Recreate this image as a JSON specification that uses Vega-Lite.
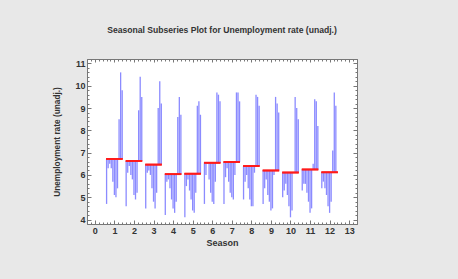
{
"$schema": "https://vega.github.io/schema/vega-lite/v6.json",
"width": 270, "height": 165,
"autosize": {"type": "none"},
"padding": {"left": 87, "top": 59, "right": 101, "bottom": 55},
"background": "#e8e8e8",
"view": {"fill": "white", "stroke": null},
"title": {"text": "Seasonal Subseries Plot for Unemployment rate (unadj.)", "fontSize": 8.6, "font": "Liberation Sans", "fontWeight": "bold", "color": "#333333", "offset": 20, "anchor": "middle"},
"data": {"values": [
{"season":1,"year":2001,"rate":4.7},{"season":2,"year":2001,"rate":4.6},{"season":3,"year":2001,"rate":4.5},{"season":4,"year":2001,"rate":4.2},{"season":5,"year":2001,"rate":4.1},{"season":6,"year":2001,"rate":4.7},{"season":7,"year":2001,"rate":4.7},{"season":8,"year":2001,"rate":4.9},{"season":9,"year":2001,"rate":4.7},{"season":10,"year":2001,"rate":5.0},{"season":11,"year":2001,"rate":5.3},{"season":12,"year":2001,"rate":5.4},
{"season":1,"year":2002,"rate":6.3},{"season":2,"year":2002,"rate":6.1},{"season":3,"year":2002,"rate":6.1},{"season":4,"year":2002,"rate":5.7},{"season":5,"year":2002,"rate":5.5},{"season":6,"year":2002,"rate":6.0},{"season":7,"year":2002,"rate":5.9},{"season":8,"year":2002,"rate":5.7},{"season":9,"year":2002,"rate":5.4},{"season":10,"year":2002,"rate":5.3},{"season":11,"year":2002,"rate":5.6},{"season":12,"year":2002,"rate":5.7},
{"season":1,"year":2003,"rate":6.5},{"season":2,"year":2003,"rate":6.4},{"season":3,"year":2003,"rate":6.2},{"season":4,"year":2003,"rate":5.8},{"season":5,"year":2003,"rate":5.8},{"season":6,"year":2003,"rate":6.5},{"season":7,"year":2003,"rate":6.3},{"season":8,"year":2003,"rate":6.0},{"season":9,"year":2003,"rate":5.8},{"season":10,"year":2003,"rate":5.6},{"season":11,"year":2003,"rate":5.6},{"season":12,"year":2003,"rate":5.4},
{"season":1,"year":2004,"rate":6.3},{"season":2,"year":2004,"rate":6.0},{"season":3,"year":2004,"rate":6.0},{"season":4,"year":2004,"rate":5.4},{"season":5,"year":2004,"rate":5.3},{"season":6,"year":2004,"rate":5.8},{"season":7,"year":2004,"rate":5.7},{"season":8,"year":2004,"rate":5.4},{"season":9,"year":2004,"rate":5.1},{"season":10,"year":2004,"rate":5.1},{"season":11,"year":2004,"rate":5.2},{"season":12,"year":2004,"rate":5.1},
{"season":1,"year":2005,"rate":5.7},{"season":2,"year":2005,"rate":5.8},{"season":3,"year":2005,"rate":5.4},{"season":4,"year":2005,"rate":4.9},{"season":5,"year":2005,"rate":4.9},{"season":6,"year":2005,"rate":5.2},{"season":7,"year":2005,"rate":5.2},{"season":8,"year":2005,"rate":4.9},{"season":9,"year":2005,"rate":4.8},{"season":10,"year":2005,"rate":4.6},{"season":11,"year":2005,"rate":4.8},{"season":12,"year":2005,"rate":4.6},
{"season":1,"year":2006,"rate":5.1},{"season":2,"year":2006,"rate":5.1},{"season":3,"year":2006,"rate":4.8},{"season":4,"year":2006,"rate":4.5},{"season":5,"year":2006,"rate":4.4},{"season":6,"year":2006,"rate":4.8},{"season":7,"year":2006,"rate":5.0},{"season":8,"year":2006,"rate":4.6},{"season":9,"year":2006,"rate":4.4},{"season":10,"year":2006,"rate":4.1},{"season":11,"year":2006,"rate":4.3},{"season":12,"year":2006,"rate":4.3},
{"season":1,"year":2007,"rate":5.0},{"season":2,"year":2007,"rate":4.9},{"season":3,"year":2007,"rate":4.5},{"season":4,"year":2007,"rate":4.3},{"season":5,"year":2007,"rate":4.3},{"season":6,"year":2007,"rate":4.7},{"season":7,"year":2007,"rate":4.9},{"season":8,"year":2007,"rate":4.6},{"season":9,"year":2007,"rate":4.5},{"season":10,"year":2007,"rate":4.4},{"season":11,"year":2007,"rate":4.5},{"season":12,"year":2007,"rate":4.8},
{"season":1,"year":2008,"rate":5.4},{"season":2,"year":2008,"rate":5.2},{"season":3,"year":2008,"rate":5.2},{"season":4,"year":2008,"rate":4.8},{"season":5,"year":2008,"rate":5.2},{"season":6,"year":2008,"rate":5.7},{"season":7,"year":2008,"rate":6.0},{"season":8,"year":2008,"rate":6.1},{"season":9,"year":2008,"rate":6.0},{"season":10,"year":2008,"rate":6.1},{"season":11,"year":2008,"rate":6.5},{"season":12,"year":2008,"rate":7.1},
{"season":1,"year":2009,"rate":8.5},{"season":2,"year":2009,"rate":8.9},{"season":3,"year":2009,"rate":9.0},{"season":4,"year":2009,"rate":8.6},{"season":5,"year":2009,"rate":9.1},{"season":6,"year":2009,"rate":9.7},{"season":7,"year":2009,"rate":9.7},{"season":8,"year":2009,"rate":9.6},{"season":9,"year":2009,"rate":9.5},{"season":10,"year":2009,"rate":9.5},{"season":11,"year":2009,"rate":9.4},{"season":12,"year":2009,"rate":9.7},
{"season":1,"year":2010,"rate":10.6},{"season":2,"year":2010,"rate":10.4},{"season":3,"year":2010,"rate":10.2},{"season":4,"year":2010,"rate":9.5},{"season":5,"year":2010,"rate":9.3},{"season":6,"year":2010,"rate":9.6},{"season":7,"year":2010,"rate":9.7},{"season":8,"year":2010,"rate":9.5},{"season":9,"year":2010,"rate":9.2},{"season":10,"year":2010,"rate":9.0},{"season":11,"year":2010,"rate":9.3},{"season":12,"year":2010,"rate":9.1},
{"season":1,"year":2011,"rate":9.8},{"season":2,"year":2011,"rate":9.5},{"season":3,"year":2011,"rate":9.2},{"season":4,"year":2011,"rate":8.7},{"season":5,"year":2011,"rate":8.7},{"season":6,"year":2011,"rate":9.3},{"season":7,"year":2011,"rate":9.3},{"season":8,"year":2011,"rate":9.1},{"season":9,"year":2011,"rate":8.8},{"season":10,"year":2011,"rate":8.5},{"season":11,"year":2011,"rate":8.2}
]},
"transform": [{"joinaggregate": [{"op": "mean", "field": "rate", "as": "mean"}], "groupby": ["season"]}],
"resolve": {"scale": {"x": "independent"}, "axis": {"x": "independent", "y": "independent"}},
"layer": [
{"mark": {"type": "rule", "color": "#4d4dff", "strokeWidth": 1.3, "opacity": 0.65},
 "encoding": {
  "x": {"field": "season", "type": "ordinal", "scale": {"type": "point", "domain": [0,1,2,3,4,5,6,7,8,9,10,11,12,13], "padding": 0.4}, "axis": null},
  "xOffset": {"field": "year", "type": "quantitative", "scale": {"domain": [2001, 2011], "range": [-7.8, 7.8]}},
  "y": {"field": "rate", "type": "quantitative", "scale": {"domain": [3.8, 11.2], "nice": false, "zero": false},
        "axis": {"orient": "left", "title": "Unemployment rate (unadj.)", "tickCount": 37, "labelExpr": "abs(datum.value - round(datum.value)) < 0.01 ? format(datum.value, 'd') : ''", "labelOverlap": false, "labelFlush": false, "labelPadding": 6,
                 "tickSize": {"condition": {"test": "abs(datum.value - round(datum.value)) < 0.01", "value": -4}, "value": -2},
                 "tickColor": "#777777", "domainColor": "#777777", "grid": false,
                 "labelFont": "Liberation Sans", "labelFontWeight": "bold", "labelFontSize": 9, "labelColor": "#333333",
                 "titleFont": "Liberation Sans", "titleFontWeight": "bold", "titleFontSize": 8.3, "titleColor": "#333333", "titlePadding": 13}},
  "y2": {"field": "mean"}
 }},
{"mark": {"type": "tick", "orient": "horizontal", "color": "#ff1a1a", "size": 16.5, "thickness": 1.8},
 "encoding": {
  "x": {"field": "season", "type": "quantitative", "scale": {"domain": [-0.4, 13.4], "nice": false, "zero": false},
        "axis": {"orient": "bottom", "title": "Season", "tickCount": 69, "labelExpr": "abs(datum.value - round(datum.value)) < 0.01 ? format(datum.value, 'd') : ''", "labelOverlap": false, "labelFlush": false, "labelPadding": 6,
                 "tickSize": {"condition": {"test": "abs(datum.value - round(datum.value)) < 0.01", "value": -4}, "value": -2},
                 "tickColor": "#777777", "domainColor": "#777777", "grid": false,
                 "labelFont": "Liberation Sans", "labelFontWeight": "bold", "labelFontSize": 9, "labelColor": "#333333",
                 "titleFont": "Liberation Sans", "titleFontWeight": "bold", "titleFontSize": 9, "titleColor": "#333333", "titlePadding": 1.5}},
  "y": {"aggregate": "mean", "field": "rate", "type": "quantitative",
        "axis": {"orient": "right", "title": null, "tickCount": 37, "labels": false, "grid": false,
                 "tickSize": {"condition": {"test": "abs(datum.value - round(datum.value)) < 0.01", "value": -4}, "value": -2},
                 "tickColor": "#777777", "domainColor": "#777777"}}
 }},
{"mark": {"type": "tick", "orient": "horizontal", "color": "#ff1a1a", "size": 16.5, "thickness": 1.8},
 "encoding": {
  "x": {"field": "season", "type": "quantitative", "scale": {"domain": [-0.4, 13.4], "nice": false, "zero": false},
        "axis": {"orient": "top", "title": null, "tickCount": 69, "labels": false, "grid": false,
                 "tickSize": {"condition": {"test": "abs(datum.value - round(datum.value)) < 0.01", "value": -3}, "value": -2},
                 "tickColor": "#777777", "domainColor": "#777777"}},
  "y": {"aggregate": "mean", "field": "rate", "type": "quantitative", "axis": null}
 }}
]
}
